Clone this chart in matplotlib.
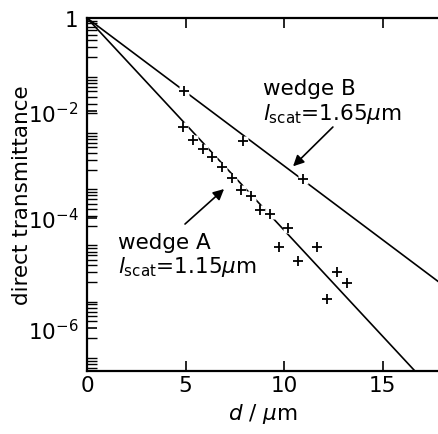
import numpy as np
import matplotlib
matplotlib.use("Agg")
import matplotlib.pyplot as plt
from matplotlib.ticker import FixedLocator, LogLocator, NullFormatter

# scattering mean free paths from the fits (um)
L_SCAT_A = 1.15
L_SCAT_B = 1.65

# measured direct transmittance, wedge A
D_A = [4.87, 5.38, 5.88, 6.34, 6.85, 7.35, 7.81, 8.32, 8.77, 9.28,
       10.19, 9.74, 11.66, 10.70, 12.68, 13.18, 12.17]
T_A = [1.15e-2, 6.75e-3, 4.67e-3, 3.36e-3, 2.23e-3, 1.42e-3, 8.7e-4, 6.8e-4,
       3.84e-4, 3.25e-4, 1.83e-4, 8.4e-5, 8.4e-5, 4.74e-5, 3.02e-5, 1.93e-5,
       1.0e-5]

# measured direct transmittance, wedge B
D_B = [4.92, 7.91, 10.95]
T_B = [5.02e-2, 6.5e-3, 1.36e-3]

YTICK_VALUES = [1.0, 2.2e-2, 2.8e-4, 3.0e-6]
YTICK_LABELS = ["1", r"$10^{-2}$", r"$10^{-4}$", r"$10^{-6}$"]
XTICKS = [0, 5, 10, 15]

plt.rcParams["font.family"] = ["DejaVu Sans"]
plt.rcParams["font.size"] = 15.5
plt.rcParams["mathtext.fontset"] = "dejavusans"

fig = plt.figure(figsize=(4.38, 4.35), dpi=100)
ax = fig.add_axes([87 / 438, 63 / 435, 351 / 438, 353 / 435])
ax.set_yscale("log")
ax.set_xlim(0, 17.8)
ax.set_ylim(10 ** (-6.28), 1.0)

# fitted exponential decay lines
d_line = np.array([0.0, 18.0])
ax.plot(d_line, np.exp(-d_line / L_SCAT_A), color="k", lw=1.2, zorder=2)
ax.plot(d_line, np.exp(-d_line / L_SCAT_B), color="k", lw=1.2, zorder=2)

# data points: white pad under each cross breaks the fit line
for dd, tt in ((D_A, T_A), (D_B, T_B)):
    ax.plot(dd, tt, ls="none", marker="s", ms=7, mfc="white", mec="none", zorder=3)
    ax.plot(dd, tt, ls="none", marker="+", ms=6.5, mew=1.3, color="k", zorder=4)

ax.text(8.92, 0.0444, "wedge B", ha="left", va="baseline")
ax.text(8.92, 0.0160, r"$l_{\rm scat}$=1.65$\mu$m", ha="left", va="baseline")
ax.text(1.57, 8.08e-5, "wedge A", ha="left", va="baseline")
ax.text(1.57, 3.02e-5, r"$l_{\rm scat}$=1.15$\mu$m", ha="left", va="baseline")

arrow = dict(arrowstyle="-|>", mutation_scale=16, lw=1.2, color="k",
             shrinkA=0, shrinkB=0)
ax.annotate("", xy=(10.45, 2.3e-3), xytext=(12.47, 1.15e-2), arrowprops=arrow)
ax.annotate("", xy=(6.95, 9.06e-4), xytext=(4.97, 2.16e-4), arrowprops=arrow)

ax.spines["right"].set_visible(False)
for s in ("left", "bottom", "top"):
    ax.spines[s].set_linewidth(1.6)

ax.set_xticks(XTICKS)
ax.set_xticklabels([str(t) for t in XTICKS])
ax.tick_params(axis="x", which="major", direction="in", length=7, width=1.2,
               top=True, bottom=True, pad=3)
ax.yaxis.set_major_locator(FixedLocator(YTICK_VALUES))
ax.set_yticklabels(YTICK_LABELS)
ax.yaxis.set_minor_locator(LogLocator(base=10, subs=np.arange(2, 10), numticks=20))
ax.yaxis.set_minor_formatter(NullFormatter())
ax.tick_params(axis="y", which="major", direction="in", length=7, width=1.2,
               right=False, pad=6)
ax.tick_params(axis="y", which="minor", direction="in", length=7, width=1.0,
               right=False)

ax.set_xlabel(r"$d$ / $\mu$m", labelpad=4)
ax.set_ylabel("direct transmittance", labelpad=-3)

fig.savefig("out.png", dpi=100)
